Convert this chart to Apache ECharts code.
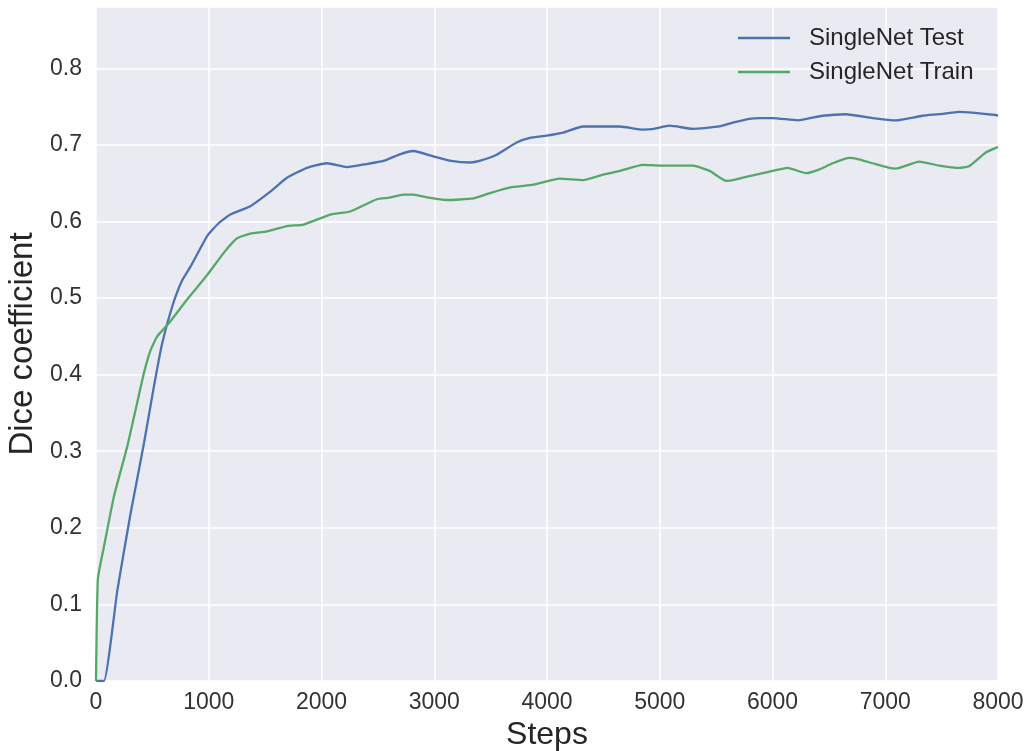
<!DOCTYPE html>
<html>
<head>
<meta charset="utf-8">
<script src="https://cdn.jsdelivr.net/npm/echarts@6/dist/echarts.min.js"></script>
<style>
html,body{margin:0;padding:0;background:#fff;}
#chart{width:1028px;height:751px;}
</style>
</head>
<body>
<div id="chart"></div>
<script>
const seriesNames = ['SingleNet Test', 'SingleNet Train'];
const xTicks = [0, 1000, 2000, 3000, 4000, 5000, 6000, 7000, 8000];
const yTicks = [0.0, 0.1, 0.2, 0.3, 0.4, 0.5, 0.6, 0.7, 0.8];

const stepsTest = [0, 70, 190, 307, 425, 513, 587, 676, 760, 838, 986, 1090, 1192, 1369, 1546, 1694, 1871, 2048, 2225, 2400, 2549, 2700, 2815, 2992, 3150, 3317, 3402, 3553, 3730, 3848, 3996, 4143, 4320, 4468, 4645, 4851, 4950, 5088, 5294, 5530, 5648, 5796, 5884, 6003, 6224, 6445, 6652, 6888, 7095, 7330, 7478, 7655, 7773, 7980, 8000];
const diceTest = [0, 0, 0.119, 0.219, 0.310, 0.384, 0.441, 0.489, 0.522, 0.541, 0.581, 0.598, 0.609, 0.620, 0.639, 0.657, 0.670, 0.676, 0.671, 0.675, 0.679, 0.688, 0.692, 0.685, 0.679, 0.677, 0.679, 0.687, 0.703, 0.709, 0.712, 0.716, 0.724, 0.724, 0.724, 0.720, 0.721, 0.725, 0.721, 0.724, 0.729, 0.734, 0.735, 0.735, 0.732, 0.738, 0.740, 0.735, 0.732, 0.738, 0.740, 0.743, 0.742, 0.739, 0.738];

const stepsTrain = [0, 17, 70, 159, 277, 351, 425, 484, 543, 646, 808, 986, 1133, 1251, 1369, 1517, 1694, 1842, 2078, 2255, 2491, 2600, 2727, 2815, 2950, 3110, 3346, 3494, 3700, 3878, 4114, 4320, 4497, 4645, 4851, 5000, 5294, 5443, 5590, 5678, 5884, 5944, 6135, 6298, 6416, 6534, 6681, 6741, 6888, 7036, 7095, 7301, 7478, 7655, 7743, 7891, 7980, 8000];
const diceTrain = [0, 0.134, 0.175, 0.241, 0.306, 0.354, 0.402, 0.432, 0.450, 0.467, 0.498, 0.530, 0.559, 0.578, 0.584, 0.587, 0.594, 0.596, 0.609, 0.613, 0.629, 0.631, 0.635, 0.635, 0.631, 0.628, 0.630, 0.637, 0.645, 0.648, 0.656, 0.654, 0.661, 0.666, 0.674, 0.673, 0.673, 0.666, 0.653, 0.655, 0.662, 0.664, 0.670, 0.663, 0.668, 0.676, 0.683, 0.682, 0.676, 0.670, 0.669, 0.678, 0.673, 0.670, 0.672, 0.690, 0.696, 0.697];

const pairs = (xs, ys) => xs.map((x, i) => [x, ys[i]]);
const FONT = '"Liberation Sans", Arial, sans-serif';

const chart = echarts.init(document.getElementById('chart'), null, {renderer: 'canvas'});
chart.setOption({
  animation: false,
  backgroundColor: '#ffffff',
  textStyle: {fontFamily: FONT},
  grid: {
    left: 96, right: 30, top: 7, bottom: 70,
    containLabel: false, outerBoundsMode: 'none',
    show: true, backgroundColor: '#EAEAF2', borderWidth: 0
  },
  legend: {
    orient: 'vertical',
    left: 733, top: 21,
    icon: 'rect',
    itemWidth: 52, itemHeight: 2.4,
    itemGap: 10,
    data: seriesNames,
    textStyle: {fontSize: 24, color: '#262626', fontFamily: FONT, padding: [0, 0, 0, 14]}
  },
  xAxis: {
    type: 'value',
    min: xTicks[0], max: xTicks[xTicks.length - 1], interval: 1000,
    name: 'Steps', nameLocation: 'middle', nameGap: 36,
    nameTextStyle: {fontSize: 32, color: '#262626', fontFamily: FONT},
    axisLine: {show: false}, axisTick: {show: false},
    axisLabel: {fontSize: 23, color: '#333333', margin: 10, fontFamily: FONT,
      formatter: v => String(v)},
    splitLine: {show: true, lineStyle: {color: '#ffffff', width: 1.5}}
  },
  yAxis: {
    type: 'value',
    min: 0, max: 0.88, interval: 0.1,
    name: 'Dice coefficient', nameLocation: 'middle', nameGap: 57,
    nameTextStyle: {fontSize: 33, color: '#262626', fontFamily: FONT},
    axisLine: {show: false}, axisTick: {show: false},
    axisLabel: {fontSize: 23, color: '#333333', margin: 14, fontFamily: FONT,
      formatter: v => (yTicks.some(t => Math.abs(t - v) < 1e-6) ? v.toFixed(1) : '')},
    splitLine: {show: true, lineStyle: {color: '#ffffff', width: 1.5}}
  },
  series: [
    {
      name: seriesNames[0], type: 'line', data: pairs(stepsTest, diceTest),
      symbol: 'none', smooth: 0.15,
      lineStyle: {color: '#4C72B0', width: 2.3},
      itemStyle: {color: '#4C72B0'}
    },
    {
      name: seriesNames[1], type: 'line', data: pairs(stepsTrain, diceTrain),
      symbol: 'none', smooth: 0.15,
      lineStyle: {color: '#55A868', width: 2.3},
      itemStyle: {color: '#55A868'}
    }
  ]
});
</script>
</body>
</html>
